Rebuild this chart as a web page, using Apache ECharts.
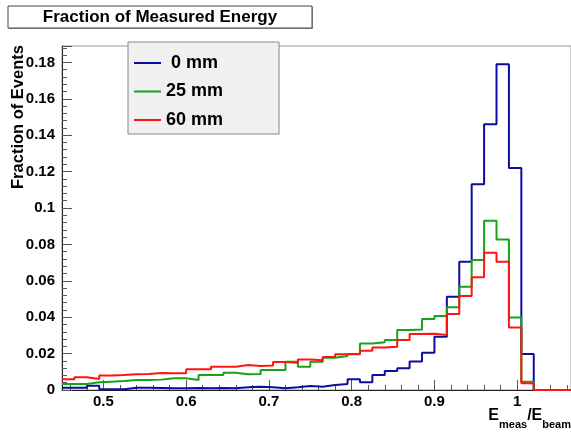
<!DOCTYPE html>
<html>
<head>
<meta charset="utf-8">
<script src="https://cdn.jsdelivr.net/npm/echarts@6/dist/echarts.min.js"></script>
<style>
  html, body { margin: 0; background: #fff; }
  #chart { width: 571px; height: 433px; }
</style>
</head>
<body>
<div id="chart"></div>
<script>
// histogram binning (41 bins of 0.015 from 0.45)
const binStart = 0.45
const binWidth = 0.015
const seriesNames = [' 0 mm', '25 mm', '60 mm']

const frac0mm = [
  0.0013, 0.0013, 0.0024, 0.0004, 0.0004, 0.0013, 0.0013, 0.0011, 0.0009, 0.0009,
  0.0011, 0.0009, 0.0011, 0.0009, 0.0015, 0.0018, 0.0015, 0.0009, 0.0015, 0.0022,
  0.0018, 0.0027, 0.0033, 0.0059, 0.0042, 0.0082, 0.0104, 0.0119, 0.0156, 0.0205,
  0.0293, 0.0512, 0.0705, 0.113, 0.146, 0.179, 0.122, 0.0198, 0, 0, 0
]
const frac25mm = [
  0.0033, 0.0033, 0.0042, 0.0046, 0.0049, 0.0055, 0.0055, 0.0057, 0.0064, 0.0064,
  0.0055, 0.0082, 0.0082, 0.0095, 0.0086, 0.0088, 0.011, 0.011, 0.0155, 0.0128,
  0.0155, 0.0177, 0.0187, 0.0198, 0.0256, 0.0262, 0.0275, 0.0329, 0.0333, 0.039,
  0.0406, 0.0454, 0.0567, 0.0714, 0.093, 0.0827, 0.0399, 0.0046, 0, 0, 0
]
const frac60mm = [
  0.0059, 0.007, 0.006, 0.0079, 0.0082, 0.0086, 0.0088, 0.0093, 0.0092, 0.0092,
  0.0114, 0.0114, 0.0128, 0.0128, 0.0137, 0.0132, 0.0134, 0.0154, 0.015, 0.0168,
  0.0163, 0.0181, 0.0196, 0.0196, 0.0216, 0.0234, 0.0238, 0.0275, 0.0307, 0.0309,
  0.0302, 0.0417, 0.0516, 0.0619, 0.0754, 0.0705, 0.0344, 0.0037, 0, 0, 0
]

const xMajorTicks = [0.5, 0.6, 0.7, 0.8, 0.9, 1.0]
const xMinorTicks = [
  0.46, 0.48, 0.52, 0.54, 0.56, 0.58, 0.62, 0.64, 0.66, 0.68, 0.72, 0.74, 0.76, 0.78,
  0.82, 0.84, 0.86, 0.88, 0.92, 0.94, 0.96, 0.98, 1.02, 1.04, 1.06
]

const font = 'Liberation Sans, Arial, sans-serif'
const colors = ['#0c0ca0', '#16a316', '#ff1414']

// points at each bin's low edge, plus the last bin's high edge
const toSteps = vals => {
  const pts = vals.map((v, i) => [+(binStart + i * binWidth).toFixed(4), v])
  pts.push([+(binStart + vals.length * binWidth).toFixed(4), vals[vals.length - 1]])
  return pts
}

const xMin = binStart
const xMax = +(binStart + frac0mm.length * binWidth).toFixed(4)

const chart = echarts.init(document.getElementById('chart'))
chart.setOption({
  animation: false,
  grid: { left: 62, right: -1, top: 46, bottom: 43, show: true, borderColor: '#999', borderWidth: 1 },
  xAxis: [{
    type: 'value', min: xMin, max: xMax, position: 'bottom',
    splitLine: { show: false },
    axisLine: { lineStyle: { color: '#222', width: 1 } },
    axisTick: { inside: true, length: 10, customValues: xMajorTicks, lineStyle: { color: '#555' } },
    axisLabel: {
      customValues: xMajorTicks, margin: 4,
      fontFamily: font, fontWeight: 'bold', fontSize: 15, color: '#000'
    }
  }, {
    type: 'value', min: xMin, max: xMax, position: 'bottom',
    splitLine: { show: false },
    axisLine: { show: false },
    axisTick: { inside: true, length: 5, customValues: xMinorTicks, lineStyle: { color: '#555' } },
    axisLabel: { show: false }
  }],
  yAxis: {
    type: 'value', min: 0, max: 0.189, interval: 0.02,
    splitLine: { show: false },
    axisLine: { show: true, lineStyle: { color: '#222', width: 1 } },
    axisTick: { show: true, inside: true, length: 10, lineStyle: { color: '#555' } },
    minorTick: { show: true, splitNumber: 5, length: 5, lineStyle: { color: '#555' } },
    axisLabel: {
      margin: 7, fontFamily: font, fontWeight: 'bold', fontSize: 15, color: '#000',
      showMaxLabel: false
    }
  },
  legend: {
    orient: 'vertical', left: 128, top: 42, z: 10,
    backgroundColor: '#f0f0f0', borderColor: '#888', borderWidth: 1,
    padding: [12, 56, 5, 5],
    itemWidth: 27, itemHeight: 18, itemGap: 10.5,
    itemStyle: { opacity: 0 },
    textStyle: { fontFamily: font, fontWeight: 'bold', fontSize: 18, color: '#000' },
    data: seriesNames
  },
  series: [frac0mm, frac25mm, frac60mm].map((vals, i) => ({
    name: seriesNames[i],
    type: 'line',
    step: 'end',
    symbol: 'none',
    color: colors[i],
    lineStyle: { width: 2, color: colors[i] },
    data: toSteps(vals)
  })),
  graphic: [
    { type: 'rect', z: 20, shape: { x: 9, y: 7, width: 304, height: 22 }, style: { fill: '#999' } },
    { type: 'rect', z: 21, shape: { x: 8, y: 6, width: 304, height: 22 }, style: { fill: '#fff', stroke: '#444', lineWidth: 1 } },
    {
      type: 'text', z: 22, x: 160, y: 17,
      style: { text: 'Fraction of Measured Energy', font: 'bold 17px ' + font, fill: '#000', align: 'center', verticalAlign: 'middle' }
    },
    {
      type: 'text', z: 22, x: 18, y: 117, rotation: Math.PI / 2,
      style: { text: 'Fraction of Events', font: 'bold 16.5px ' + font, fill: '#000', align: 'center', verticalAlign: 'middle' }
    },
    {
      type: 'text', z: 22, x: 571, y: 430,
      style: {
        text: '{b|E}{s|meas}{b|/E}{s|beam}',
        align: 'right', verticalAlign: 'bottom', fill: '#000',
        rich: {
          b: { font: 'bold 16px ' + font, verticalAlign: 'bottom', lineHeight: 18, padding: [0, 0, 6, 0] },
          s: { font: 'bold 11px ' + font, verticalAlign: 'bottom', lineHeight: 13 }
        }
      }
    }
  ]
})
</script>
</body>
</html>
